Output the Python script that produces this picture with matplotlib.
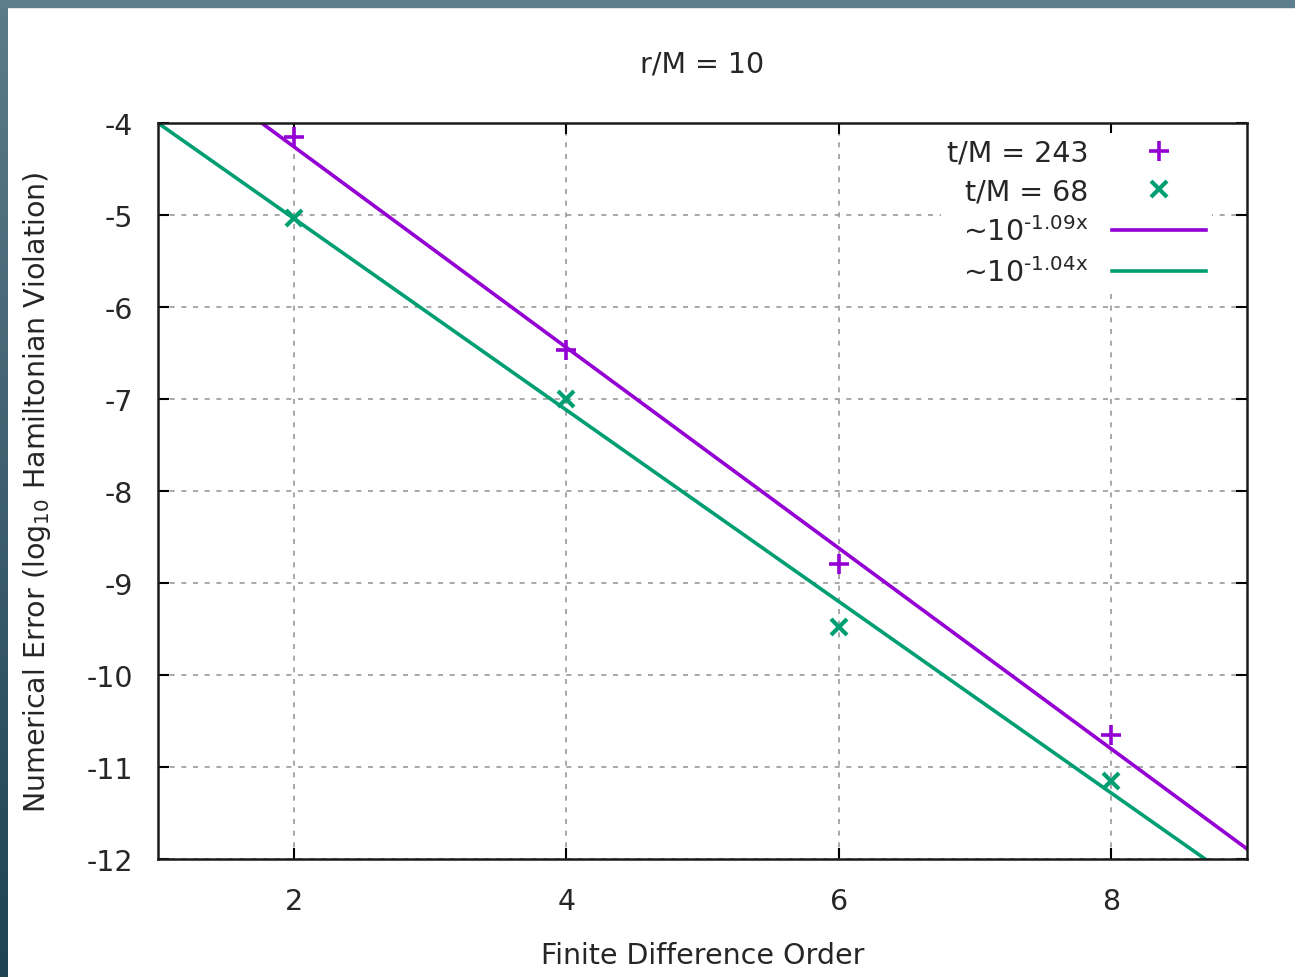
import numpy as np
import matplotlib.pyplot as plt
from matplotlib.patches import Rectangle
from matplotlib.colors import LinearSegmentedColormap

plt.rcParams['font.family'] = ['DejaVu Sans']
plt.rcParams['mathtext.fontset'] = 'dejavusans'
plt.rcParams['axes.unicode_minus'] = False

# data
orders = [2, 4, 6, 8]
err_t243 = [-4.15, -6.47, -8.79, -10.65]
err_t68 = [-5.03, -7.00, -9.48, -11.15]

# fitted lines  y = a + b * x
fit_b = [-1.09, -1.04]
fit_a = [-2.08, -2.96]
fit_labels = [r'~10$^{\text{-1.09x}}$', r'~10$^{\text{-1.04x}}$']

purple = '#9400d3'
green = '#009e73'
txt = '#262626'
fs = 20.5

fig = plt.figure(figsize=(12.95, 9.78), dpi=100)

# window-border strips like the screenshot
fig.patches.append(Rectangle((0, 1 - 8 / 978), 1, 8 / 978, transform=fig.transFigure,
                             color='#5d7e8d', zorder=0))
bg = fig.add_axes([0, 0, 8 / 1295, 1 - 8 / 978])
grad = np.linspace(0, 1, 256).reshape(-1, 1)
cm = LinearSegmentedColormap.from_list('b', ['#5b7b8a', '#1f4353'])
bg.imshow(grad, aspect='auto', cmap=cm)
bg.axis('off')

ax = fig.add_axes([158 / 1295, 1 - 860 / 978, (1247 - 158) / 1295, (860 - 124) / 978])

xs = np.array([1.0, 9.0])
h1, = ax.plot(orders, err_t243, '+', color=purple, ms=15, mew=2.6, ls='none',
              label='t/M = 243', zorder=4)
h2, = ax.plot(orders, err_t68, 'x', color=green, ms=12, mew=3, ls='none',
              label='t/M = 68', zorder=4)
h3, = ax.plot(xs, fit_a[0] + fit_b[0] * xs, color=purple, lw=2.6, label=fit_labels[0])
h4, = ax.plot(xs, fit_a[1] + fit_b[1] * xs, color=green, lw=2.6, label=fit_labels[1])

ax.set_xlim(1, 9)
ax.set_ylim(-12, -4)
ax.set_xticks([2, 4, 6, 8])
ax.set_yticks(range(-12, -3))
ax.grid(True, color='#9a9a9a', ls=(0, (3, 4)), lw=1.2)
ax.tick_params(direction='in', length=8, width=1.5, top=True, right=True,
               labelsize=fs, colors='black', labelcolor=txt)
ax.tick_params(axis='x', pad=20)
ax.tick_params(axis='y', pad=18)
for s in ax.spines.values():
    s.set_linewidth(1.8)
    s.set_color('#1a1a1a')

ax.set_title('r/M = 10', fontsize=fs, color=txt, pad=37)
ax.set_xlabel('Finite Difference Order', fontsize=fs, color=txt, labelpad=19)
ax.set_ylabel(r'Numerical Error (log$_{\mathrm{10}}$ Hamiltonian Violation)',
              fontsize=fs, color=txt, labelpad=24)

leg = ax.legend(handles=[h1, h2, h3, h4], loc='upper right', bbox_to_anchor=(0.981, 1.006),
                markerfirst=False, frameon=True, fontsize=fs, handlelength=3.3,
                handletextpad=0.85, labelspacing=0.38, borderpad=0.2)
leg.get_frame().set_edgecolor('none')
leg.get_frame().set_facecolor('white')
leg.get_frame().set_alpha(1)
for t in leg.get_texts():
    t.set_ha('right')
    t.set_color(txt)
leg._legend_box.align = 'right'

fig.savefig('out.png', dpi=100)
